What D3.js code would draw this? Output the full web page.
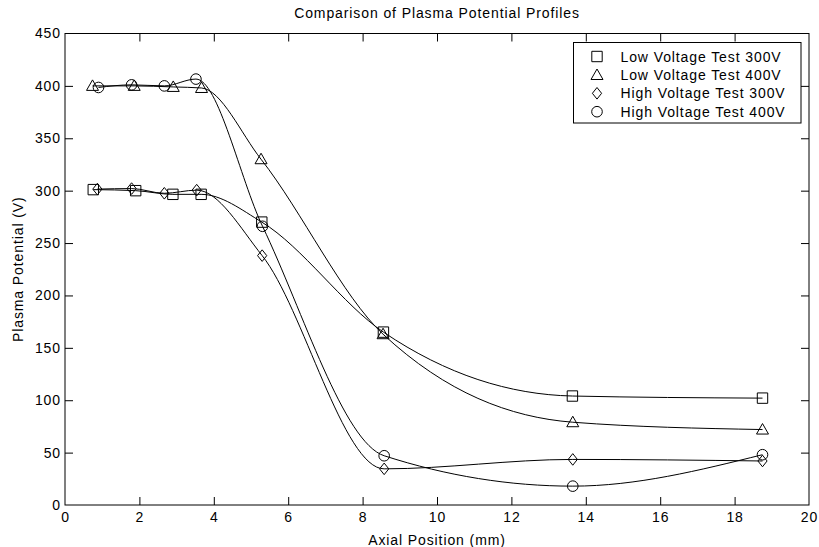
<!DOCTYPE html>
<html>
<head>
<meta charset="utf-8">
<script src="https://cdn.jsdelivr.net/npm/d3@7"></script>
<style>
  body { margin: 0; background: #fff; }
  svg { display: block; font-family: "Liberation Sans", Arial, sans-serif; }
  text { letter-spacing: 0.9px; }
</style>
</head>
<body>
<svg id="chart" width="819" height="547"></svg>
<script>
// Axial positions (mm) and plasma potentials (V) for each test
const lv300X = [0.76, 1.9, 2.9, 3.66, 5.29, 8.56, 13.64, 18.75];
const lv300Y = [301, 300, 296.5, 296.5, 270, 165, 104, 102];
const lv400X = [0.74, 1.86, 2.91, 3.67, 5.27, 8.55, 13.65, 18.75];
const lv400Y = [400, 400, 399, 398, 330, 163, 79, 72];
const hv300X = [0.87, 1.79, 2.67, 3.54, 5.3, 8.58, 13.65, 18.75];
const hv300Y = [301.5, 302, 297.5, 300.5, 238, 34.5, 43.5, 42];
const hv400X = [0.9, 1.79, 2.67, 3.52, 5.31, 8.58, 13.65, 18.75];
const hv400Y = [398.5, 401, 400, 406.5, 266, 47, 18, 48];

const seriesNames = ["Low Voltage Test 300V", "Low Voltage Test 400V", "High Voltage Test 300V", "High Voltage Test 400V"];
const seriesMarkers = ["square", "triangle", "diamond", "circle"];
const xTicks = [0, 2, 4, 6, 8, 10, 12, 14, 16, 18, 20];
const yTicks = [0, 50, 100, 150, 200, 250, 300, 350, 400, 450];

const series = [
  { name: seriesNames[0], marker: seriesMarkers[0], xs: lv300X, ys: lv300Y },
  { name: seriesNames[1], marker: seriesMarkers[1], xs: lv400X, ys: lv400Y },
  { name: seriesNames[2], marker: seriesMarkers[2], xs: hv300X, ys: hv300Y },
  { name: seriesNames[3], marker: seriesMarkers[3], xs: hv400X, ys: hv400Y }
];

const svg = d3.select("#chart");
const plotL = 65, plotR = 809, plotT = 33.5, plotB = 505;
const x = d3.scaleLinear().domain([0, 20]).range([plotL, plotR]);
const y = d3.scaleLinear().domain([0, 450]).range([plotB, plotT]);
const tickLen = 8;
const fontSize = 14;

// Axes with inward ticks on all four sides
const gx = svg.append("g").attr("transform", `translate(0,${plotB})`)
  .call(d3.axisBottom(x).tickValues(xTicks).tickSizeInner(-tickLen).tickSizeOuter(0).tickPadding(7));
const gxTop = svg.append("g").attr("transform", `translate(0,${plotT})`)
  .call(d3.axisTop(x).tickValues(xTicks).tickSizeInner(-tickLen).tickSizeOuter(0).tickFormat(""));
const gy = svg.append("g").attr("transform", `translate(${plotL},0)`)
  .call(d3.axisLeft(y).tickValues(yTicks).tickSizeInner(-tickLen).tickSizeOuter(0).tickPadding(4));
const gyRight = svg.append("g").attr("transform", `translate(${plotR},0)`)
  .call(d3.axisRight(y).tickValues(yTicks).tickSizeInner(-tickLen).tickSizeOuter(0).tickFormat(""));

[gx, gxTop, gy, gyRight].forEach(g => {
  g.select(".domain").remove();
  g.selectAll(".tick line").attr("stroke", "#000");
  g.selectAll(".tick text").attr("font-size", fontSize).attr("fill", "#000")
    .attr("font-family", "'Liberation Sans', Arial, sans-serif");
});
// no tick marks at the corners
gx.selectAll(".tick").filter(d => d === 0 || d === 20).select("line").remove();
gxTop.selectAll(".tick").filter(d => d === 0 || d === 20).select("line").remove();
gy.selectAll(".tick").filter(d => d === 0 || d === 450).select("line").remove();
gyRight.selectAll(".tick").filter(d => d === 0 || d === 450).select("line").remove();

svg.append("rect")
  .attr("x", plotL).attr("y", plotT)
  .attr("width", plotR - plotL).attr("height", plotB - plotT)
  .attr("fill", "none").attr("stroke", "#000").attr("stroke-width", 1);

// Smooth profile curves
const line = d3.line().x(d => x(d[0])).y(d => y(d[1])).curve(d3.curveMonotoneX);
series.forEach(s => {
  const pts = s.xs.map((v, i) => [v, s.ys[i]]);
  svg.append("path").datum(pts)
    .attr("d", line)
    .attr("fill", "none").attr("stroke", "#000").attr("stroke-width", 1);
});

// Marker symbols
function markerPath(type) {
  switch (type) {
    case "square": return "M-5.2,-5.2H5.2V5.2H-5.2Z";
    case "triangle": return "M0,-6L6,4.5H-6Z";
    case "diamond": return "M0,-5.8L4.6,0L0,5.8L-4.6,0Z";
    case "circle": return "M5.3,0A5.3,5.3 0 1,1 -5.3,0A5.3,5.3 0 1,1 5.3,0Z";
  }
}
series.forEach(s => {
  svg.append("g").selectAll("path")
    .data(s.xs.map((v, i) => [v, s.ys[i]]))
    .join("path")
    .attr("transform", d => `translate(${x(d[0])},${y(d[1])})`)
    .attr("d", markerPath(s.marker))
    .attr("fill", "none").attr("stroke", "#000").attr("stroke-width", 1);
});

// Title and axis labels
svg.append("text").attr("x", (plotL + plotR) / 2).attr("y", 18)
  .attr("text-anchor", "middle").attr("font-size", fontSize).text("Comparison of Plasma Potential Profiles");
svg.append("text").attr("x", (plotL + plotR) / 2).attr("y", 545)
  .attr("text-anchor", "middle").attr("font-size", fontSize).text("Axial Position (mm)");
svg.append("text")
  .attr("transform", `translate(23,${(plotT + plotB) / 2}) rotate(-90)`)
  .attr("text-anchor", "middle").attr("font-size", fontSize).text("Plasma Potential (V)");

// Legend
const lg = svg.append("g");
lg.append("rect").attr("x", 573.5).attr("y", 42.5).attr("width", 227.5).attr("height", 80.5)
  .attr("fill", "#fff").attr("stroke", "#000").attr("stroke-width", 1);
const rowY = [56.5, 75, 93.3, 111.7];
series.forEach((s, i) => {
  lg.append("path").attr("transform", `translate(597,${rowY[i]})`)
    .attr("d", markerPath(s.marker)).attr("fill", "none").attr("stroke", "#000");
  lg.append("text").attr("x", 620.5).attr("y", rowY[i] + 5).attr("font-size", fontSize).text(s.name);
});
</script>
</body>
</html>
